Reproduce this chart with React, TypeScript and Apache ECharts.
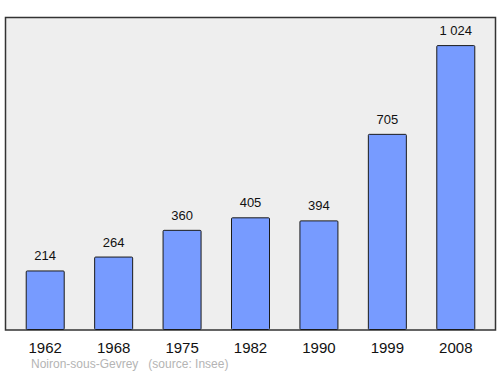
import React, { useEffect, useRef } from "react";
import * as echarts from "echarts";

const years = ["1962", "1968", "1975", "1982", "1990", "1999", "2008"];
const population = [214, 264, 360, 405, 394, 705, 1024];
const footer = "Noiron-sous-Gevrey   (source: Insee)";

const fmt = (v: number) => {
  const s = String(v);
  return s.length > 3 ? s.slice(0, s.length - 3) + " " + s.slice(s.length - 3) : s;
};

export default function App() {
  const ref = useRef<HTMLDivElement>(null);
  useEffect(() => {
    const chart = echarts.init(ref.current!, null, { renderer: "svg" });
    chart.setOption({
      animation: false,
      textStyle: { fontFamily: "Liberation Sans, Arial, sans-serif" },
      grid: { left: 11, right: 10, top: 17, bottom: 44 },
      graphic: [
        {
          type: "rect",
          z: -10,
          shape: { x: 5.5, y: 17.5, width: 490, height: 312.5 },
          style: { fill: "#eeeeee", stroke: "#333333", lineWidth: 1.5 },
          silent: true,
        },
        {
          type: "text",
          left: 31,
          top: 358,
          style: {
            text: footer,
            fill: "#b4b4b4",
            fontSize: 12,
            fontFamily: "Liberation Sans, Arial, sans-serif",
          },
        },
      ],
      xAxis: {
        type: "category",
        data: years,
        axisLine: { show: false },
        axisTick: { show: false },
        axisLabel: { color: "#111", fontSize: 15, margin: 10 },
      },
      yAxis: {
        type: "value",
        min: 0,
        max: 1125,
        show: false,
        splitLine: { show: false },
      },
      series: [
        {
          type: "bar",
          data: population,
          barWidth: 39,
          itemStyle: {
            color: "#779bff",
            borderColor: "#1a1a1a",
            borderWidth: 1,
            borderRadius: 1,
          },
          label: {
            show: true,
            position: "top",
            distance: 8,
            color: "#111",
            fontSize: 13,
            formatter: (p: any) => fmt(p.value),
          },
        },
      ],
    });
    return () => chart.dispose();
  }, []);
  return <div ref={ref} style={{ width: 500, height: 374, position: "absolute", left: 0, top: 0 }} />;
}
